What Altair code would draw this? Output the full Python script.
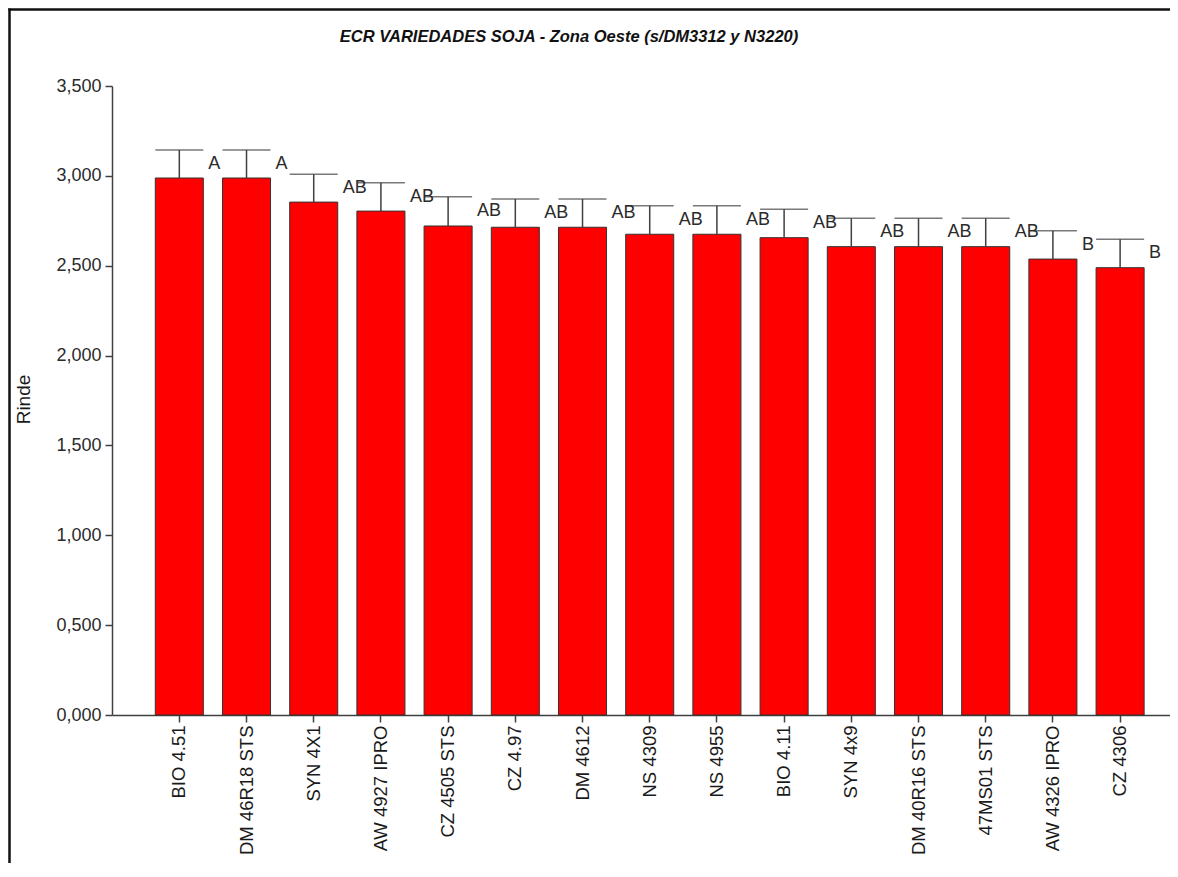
import altair as alt
import pandas as pd

FONT = "Liberation Sans"

title_text = "ECR VARIEDADES SOJA - Zona Oeste (s/DM3312 y N3220)"
y_title = "Rinde"

variedades = ["BIO 4.51", "DM 46R18 STS", "SYN 4X1", "AW 4927 IPRO", "CZ 4505 STS",
              "CZ 4.97", "DM 4612", "NS 4309", "NS 4955", "BIO 4.11",
              "SYN 4x9", "DM 40R16 STS", "47MS01 STS", "AW 4326 IPRO", "CZ 4306"]
rinde = [2.988, 2.988, 2.854, 2.804, 2.721,
         2.714, 2.714, 2.675, 2.675, 2.656,
         2.606, 2.606, 2.606, 2.537, 2.489]
limite_sup = [3.144, 3.144, 3.009, 2.962, 2.884,
              2.871, 2.871, 2.834, 2.834, 2.814,
              2.764, 2.764, 2.764, 2.695, 2.647]
letras = ["A", "A", "AB", "AB", "AB",
          "AB", "AB", "AB", "AB", "AB",
          "AB", "AB", "AB", "B", "B"]
y_ticks = [0, 0.5, 1.0, 1.5, 2.0, 2.5, 3.0, 3.5]

df = pd.DataFrame({"variedad": variedades, "rinde": rinde,
                   "sup": limite_sup, "letra": letras})

x_enc = alt.X(
    "variedad:N", sort=variedades,
    scale=alt.Scale(paddingInner=0.285, paddingOuter=0.5146, align=0.626),
    axis=alt.Axis(title=None, labelAngle=270, labelFont=FONT, labelFontSize=18.5,
                  labelColor="#1a1a1a", tickSize=7, tickColor="#404040",
                  tickWidth=1.5, domainColor="#404040", domainWidth=1.5,
                  labelPadding=3),
)


def y_enc(field):
    return alt.Y(
        f"{field}:Q",
        scale=alt.Scale(domain=[0, 3.5], nice=False, zero=True),
        axis=alt.Axis(values=y_ticks, grid=False, title=y_title,
                      labelExpr="replace(format(datum.value, '.3f'), '.', ',')",
                      labelFont=FONT, labelFontSize=18, labelColor="#2b2b2b",
                      tickSize=7, tickColor="#404040", tickWidth=1.5,
                      domainColor="#404040", domainWidth=1.5, labelPadding=4,
                      titleFont=FONT, titleFontSize=19, titleFontWeight="normal",
                      titleColor="#1a1a1a", titleAngle=270, titleAlign="center",
                      titleBaseline="middle", titleX=-89, titleY=313),
    )


base = alt.Chart(df)

bars = base.mark_bar(color="#FF0000", stroke="#333333", strokeWidth=1).encode(
    x=x_enc, y=y_enc("rinde"))

stems = base.mark_rule(color="#404040", strokeWidth=1.5).encode(
    x=x_enc, y=y_enc("rinde"), y2="sup:Q")

caps = base.mark_tick(color="#404040", thickness=1.5, size=48,
                      orient="horizontal").encode(x=x_enc, y=y_enc("sup"))

labels = base.mark_text(align="left", baseline="middle", dx=29, dy=14,
                        font=FONT, fontSize=18, color="#2b2b2b").encode(
    x=x_enc, y=y_enc("sup"), text="letra:N")

title = alt.Chart(pd.DataFrame({"t": [title_text]})).mark_text(
    font=FONT, fontSize=16.5, fontWeight="bold", fontStyle="italic",
    color="#111111", align="center", baseline="alphabetic").encode(
    x=alt.value(457), y=alt.value(-44), text="t:N")

frame_data = pd.DataFrame({"f": [1]})
frame_left = alt.Chart(frame_data).mark_rule(color="#111111", strokeWidth=2.5).encode(
    x=alt.value(-102.5), y=alt.value(-77.5), y2=alt.value(777))
frame_top = alt.Chart(frame_data).mark_rule(color="#111111", strokeWidth=2.5).encode(
    x=alt.value(-103.75), x2=alt.value(1058), y=alt.value(-76.5))

chart = alt.layer(frame_left, frame_top, bars, stems, caps, labels, title).properties(
    width=1058, height=629,
    autosize=alt.AutoSizeParams(type="none"),
    padding={"left": 104, "top": 78, "right": 0, "bottom": 148},
).configure(background="white").configure_view(strokeWidth=0)

chart.save("out.html", embed_options={"renderer": "svg", "actions": False})
